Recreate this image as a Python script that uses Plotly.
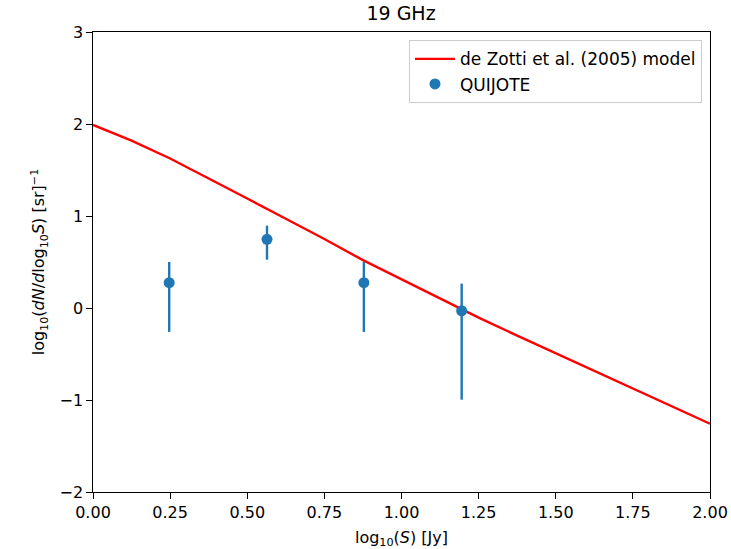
import plotly.graph_objects as go

# de Zotti et al. (2005) model curve
model_x = [0.0, 0.125, 0.25, 0.375, 0.5, 0.625, 0.75, 0.875, 1.0, 1.125, 1.25, 1.375, 1.5, 1.625, 1.75, 1.875, 2.0]
model_y = [1.99, 1.82, 1.625, 1.41, 1.19, 0.97, 0.75, 0.52, 0.31, 0.10, -0.105, -0.30, -0.49, -0.68, -0.875, -1.065, -1.258]

# QUIJOTE points
q_x = [0.247, 0.564, 0.878, 1.195]
q_y = [0.275, 0.747, 0.275, -0.03]
q_err_plus = [0.225, 0.148, 0.225, 0.295]
q_err_minus = [0.535, 0.222, 0.535, 0.967]

x_ticks = [0.0, 0.25, 0.5, 0.75, 1.0, 1.25, 1.5, 1.75, 2.0]
y_ticks = [-2, -1, 0, 1, 2, 3]

FONT = "DejaVu Sans"

fig = go.Figure()
fig.add_trace(go.Scatter(
    x=model_x, y=model_y, mode="lines",
    line=dict(color="#ff0000", width=2.4),
    name="de Zotti et al. (2005) model", legendgroup="a",
))
fig.add_trace(go.Scatter(
    x=q_x, y=q_y, mode="markers",
    marker=dict(color="#1f77b4", size=11),
    error_y=dict(type="data", symmetric=False, array=q_err_plus, arrayminus=q_err_minus,
                 color="#1f77b4", thickness=2.4, width=0),
    name="QUIJOTE", legendgroup="b",
))

axis_common = dict(
    showgrid=False, zeroline=False, showline=True, linecolor="black", linewidth=1.3,
    mirror=True, ticks="outside", ticklen=5.5, tickwidth=1.3, tickcolor="black",
    tickfont=dict(family=FONT, size=16, color="black"), automargin=False,
)

fig.update_layout(
    width=731, height=549,
    margin=dict(l=93, r=21, t=32, b=57, autoexpand=False),
    plot_bgcolor="white", paper_bgcolor="white",
    font=dict(family=FONT, color="black"),
    title=dict(text="19 GHz", x=0.5486, xanchor="center", y=0.975, yanchor="middle",
               font=dict(family=FONT, size=19, color="black")),
    xaxis=dict(range=[0, 2], tickvals=x_ticks, ticktext=[f"{v:.2f}" for v in x_ticks],
               title=dict(text="log<sub>10</sub>(<i>S</i>) [Jy]", standoff=10,
                          font=dict(family=FONT, size=16, color="black")),
               **axis_common),
    yaxis=dict(range=[-2, 3], tickvals=y_ticks,
               ticktext=[str(v).replace("-", "\u2212") for v in y_ticks],
               title=dict(text="log<sub>10</sub>(<i>dN</i>/<i>d</i>log<sub>10</sub><i>S</i>) [sr]<sup>\u22121</sup>",
                          standoff=10, font=dict(family=FONT, size=16, color="black")),
               **axis_common),
    legend=dict(x=0.987, xanchor="right", y=0.982, yanchor="top",
                bordercolor="#cccccc", borderwidth=1, bgcolor="rgba(255,255,255,0.8)",
                font=dict(family=FONT, size=17, color="black"), tracegroupgap=0,
                itemwidth=40),
    showlegend=True,
)

fig.write_html("out.html")
